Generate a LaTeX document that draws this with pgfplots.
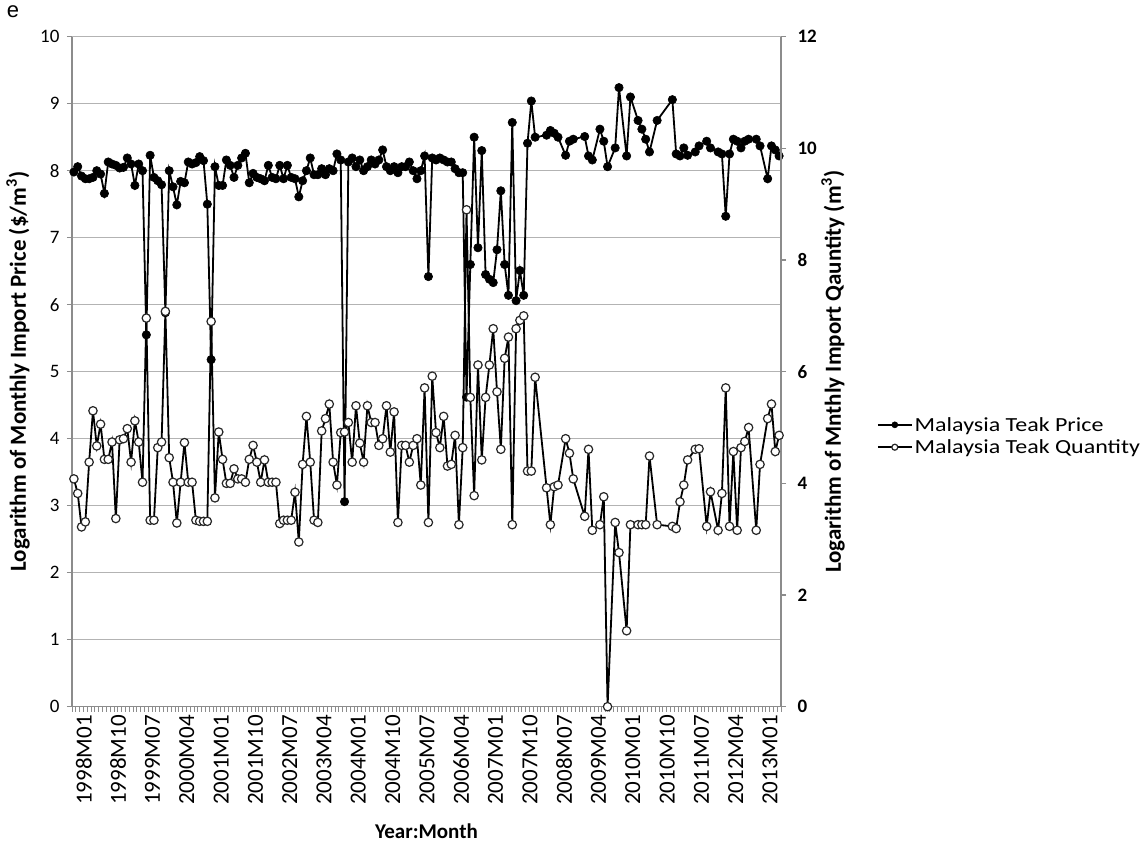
\documentclass[border=0pt]{standalone}
\usepackage{fontspec}
\setmainfont{Carlito}
\newfontfamily\legfont[FakeStretch=1.2]{Carlito}
\newfontfamily\arialfont{Liberation Sans}
\usepackage{pgfplots}
\usepackage{pgfplotstable}
\pgfplotsset{compat=1.18}
\definecolor{gridgray}{HTML}{B3B3B3}
\definecolor{axisgray}{HTML}{8C8C8C}

\pgfplotstableread{
m price qty
0 7.98 4.08
1 8.06 3.82
2 7.92 3.22
3 7.88 3.31
4 7.88 4.38
5 7.90 5.30
6 8.00 4.67
7 7.95 5.06
8 7.66 4.43
9 8.13 4.43
10 8.10 4.74
11 8.08 3.37
12 8.04 4.78
13 8.05 4.80
14 8.19 4.98
15 8.10 4.38
16 7.78 5.12
17 8.10 4.74
18 8.00 4.02
19 5.55 6.96
20 8.23 3.34
21 7.90 3.34
22 7.85 4.64
23 7.79 4.74
24 5.88 7.08
25 8.00 4.46
26 7.76 4.02
27 7.49 3.29
28 7.84 4.02
29 7.82 4.73
30 8.13 4.02
31 8.10 4.02
32 8.12 3.34
33 8.21 3.32
34 8.15 3.32
35 7.50 3.32
36 5.18 6.90
37 8.06 3.74
38 7.78 4.92
39 7.78 4.43
40 8.16 4.00
41 8.08 4.00
42 7.90 4.26
43 8.08 4.08
44 8.19 4.08
45 8.26 4.02
46 7.82 4.43
47 7.96 4.68
48 7.90 4.38
49 7.88 4.02
50 7.85 4.42
51 8.08 4.02
52 7.90 4.02
53 7.88 4.02
54 8.08 3.28
55 7.88 3.34
56 8.08 3.34
57 7.90 3.34
58 7.88 3.84
59 7.61 2.95
60 7.85 4.34
61 8.00 5.20
62 8.19 4.38
63 7.94 3.34
64 7.94 3.30
65 8.03 4.94
66 7.94 5.16
67 8.03 5.42
68 8.00 4.38
69 8.25 3.97
70 8.16 4.91
71 3.06 4.92
72 8.13 5.09
73 8.19 4.38
74 8.06 5.39
75 8.16 4.72
76 8.00 4.38
77 8.06 5.39
78 8.16 5.09
79 8.10 5.09
80 8.16 4.68
81 8.31 4.80
82 8.06 5.39
83 8.00 4.56
84 8.06 5.28
85 7.97 3.30
86 8.06 4.68
87 8.06 4.68
88 8.13 4.38
89 8.00 4.68
90 7.88 4.80
91 8.00 3.97
92 8.22 5.71
93 6.42 3.30
94 8.19 5.92
95 8.16 4.91
96 8.19 4.64
97 8.16 5.20
98 8.13 4.31
99 8.13 4.34
100 8.03 4.86
101 7.97 3.26
102 7.97 4.64
103 4.62 8.90
104 6.60 5.54
105 8.50 3.78
106 6.85 6.12
107 8.30 4.42
108 6.45 5.54
109 6.38 6.12
110 6.33 6.77
111 6.82 5.64
112 7.70 4.61
113 6.60 6.24
114 6.14 6.62
115 8.72 3.26
116 6.06 6.77
117 6.51 6.92
118 6.14 7.00
119 8.41 4.22
120 9.04 4.22
121 8.50 5.90
124 8.53 3.92
125 8.60 3.26
126 8.56 3.94
127 8.50 3.97
129 8.23 4.80
130 8.44 4.54
131 8.47 4.08
134 8.51 3.41
135 8.22 4.61
136 8.16 3.16
138 8.62 3.26
139 8.44 3.76
140 8.06 0.00
142 8.34 3.30
143 9.24 2.76
145 8.22 1.36
146 9.10 3.26
148 8.75 3.26
149 8.62 3.26
150 8.47 3.26
151 8.28 4.49
153 8.75 3.26
157 9.06 3.23
158 8.25 3.19
159 8.22 3.67
160 8.34 3.97
161 8.23 4.42
163 8.28 4.61
164 8.37 4.62
166 8.44 3.23
167 8.34 3.85
169 8.28 3.16
170 8.25 3.82
171 7.32 5.71
172 8.25 3.23
173 8.47 4.57
174 8.44 3.16
175 8.34 4.64
176 8.44 4.75
177 8.47 5.00
179 8.47 3.16
180 8.37 4.34
182 7.88 5.16
183 8.37 5.42
184 8.31 4.57
185 8.22 4.86
}\teak

\pgfplotsset{
  common/.style={
    at={(72pt,140.3pt)}, anchor=south west,
    scale only axis, width=709pt, height=670pt,
    xmin=-0.5, xmax=185.5, ymin=0,
    clip=false,
    /pgf/number format/assume math mode=true,
    tick align=outside,
    major tick length=5pt,
  },
  pricestyle/.style={black, line width=1.8pt, mark=*, mark size=4.2pt, mark options={fill=black, draw=black, line width=0.6pt}},
  qtystyle/.style={black, line width=1.8pt, mark=*, mark size=4.2pt, mark options={fill=white, draw=black!85, line width=1.2pt}},
}

\begin{document}
\begin{tikzpicture}
\path[use as bounding box] (0,0) rectangle (1148pt,847pt);
\node[font=\arialfont\fontsize{22}{24}\selectfont] at (13pt,835pt) {e};

\begin{axis}[
  common,
  ymax=10,
  axis x line*=bottom, axis y line*=left,
  axis line style={draw=axisgray, line width=1.2pt},
  ytick={0,1,...,10},
  ymajorgrids,
  grid style={gridgray, line width=1.2pt},
  ytick style={axisgray, line width=1.2pt},
  xtick={0,9,...,180},
  xticklabels={1998M01,1998M10,1999M07,2000M04,2001M01,2001M10,2002M07,2003M04,2004M01,2004M10,2005M07,2006M04,2007M01,2007M10,2008M07,2009M04,2010M01,2010M10,2011M07,2012M04,2013M01},
  major x tick style={draw=none},
  minor xtick={-0.5,0.5,...,185.5},
  minor tick length=5pt,
  minor x tick style={axisgray, line width=0.8pt},
  xticklabel style={rotate=90, anchor=east, font=\fontsize{23}{26}\selectfont, yshift=-10pt},
  yticklabel style={font=\fontsize{19}{22}\selectfont, xshift=-4pt},
  ylabel={Logarithm of Monthly Import Price (\$/m\textsuperscript{3})},
  ylabel style={font=\bfseries\fontsize{23}{26}\selectfont, at={(axis description cs:-0.0762,0.5)}, anchor=center},
  xlabel={Year:Month},
  xlabel style={font=\bfseries\fontsize{21}{24}\selectfont, at={(axis description cs:0.5,-0.186)}, anchor=center},
]
\addplot[pricestyle] table[x=m, y=price] {\teak};
\end{axis}

\begin{axis}[
  common,
  ymax=12,
  axis x line=none, axis y line*=right,
  axis line style={draw=axisgray, line width=1.2pt},
  ytick={0,2,...,12},
  ytick style={axisgray, line width=1.2pt},
  yticklabel style={font=\bfseries\fontsize{19}{22}\selectfont, xshift=8pt},
  ylabel={Logarithm of Mnthly Import Qauntity (m\textsuperscript{3})},
  ylabel style={font=\bfseries\fontsize{23}{26}\selectfont, at={(axis description cs:1.0733,0.5)}, anchor=center, rotate=0},
  legend style={at={(axis description cs:1.135,0.404)}, anchor=west, draw=none, fill=none,
    font=\legfont\fontsize{20}{24}\selectfont, legend cell align=left, row sep=3pt, inner sep=0pt},
  legend image code/.code={\draw[mark repeat=2, mark phase=2, #1, mark size=3pt] plot coordinates {(0pt,0pt) (17pt,0pt) (34pt,0pt)};},
]
\addlegendimage{pricestyle}
\addlegendentry{Malaysia Teak Price}
\addplot[qtystyle] table[x=m, y=qty] {\teak};
\addlegendentry{Malaysia Teak Quantity}
\end{axis}
\end{tikzpicture}
\end{document}
